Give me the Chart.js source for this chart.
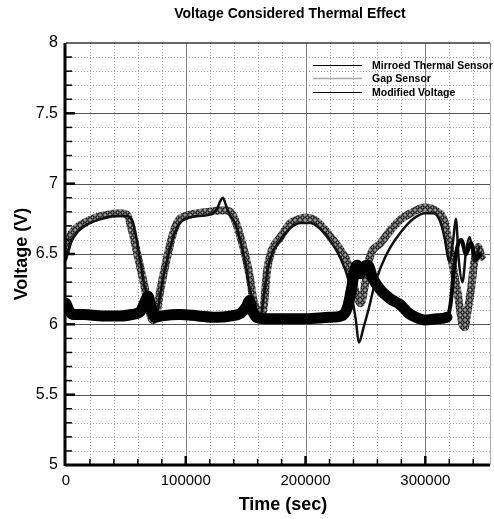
<!DOCTYPE html>
<html>
<head>
<meta charset="utf-8">
<title>Voltage Considered Thermal Effect</title>
<script src="https://cdn.jsdelivr.net/npm/chart.js@4.4.0/dist/chart.umd.min.js"></script>
<style>
  html, body { margin: 0; padding: 0; background: #fff; }
  #wrap { width: 494px; height: 519px; }
</style>
</head>
<body>
<div id="wrap"><canvas id="myChart" width="494" height="519"></canvas></div>
<script>
// values: time in sec, voltage in V
const gapTime = [0, 3000, 8000, 15000, 25000, 35000, 45000, 51000, 55000, 60000, 64500, 68000, 71000, 73000, 76000, 78700, 84500, 89500, 94000, 100000,
    110000, 120000, 128000, 134000, 139000, 144000, 150000, 154000, 156500, 160500, 162000, 165000, 168000, 172000, 179000, 187500, 195000, 200000,
    206000, 212000, 221000, 229000, 235000, 239000, 243000, 246000, 250000, 253000, 263000, 271000, 280000, 290000, 299000, 310000, 316000, 319000,
    323000, 327000, 331000, 333000, 335000, 338000, 341000, 344000, 347000];
const gapVolt = [6.52, 6.62, 6.68, 6.72, 6.76, 6.78, 6.79, 6.78, 6.67, 6.48, 6.31, 6.17, 6.05, 6.03, 6.10, 6.24, 6.48, 6.65, 6.74, 6.77,
    6.79, 6.80, 6.81, 6.81, 6.78, 6.67, 6.48, 6.31, 6.17, 6.08, 6.04, 6.12, 6.39, 6.53, 6.62, 6.72, 6.75, 6.76,
    6.75, 6.71, 6.62, 6.53, 6.44, 6.31, 6.20, 6.15, 6.30, 6.46, 6.58, 6.67, 6.75, 6.80, 6.83, 6.80, 6.73, 6.60,
    6.41, 6.22, 6.00, 5.98, 6.08, 6.24, 6.45, 6.55, 6.48];

const mirrorTime = [0, 4000, 10000, 20000, 30000, 40000, 50000, 56000, 61000, 65000, 69000, 72000, 74000, 77000, 80000, 85000, 90000, 95000, 100000,
    110000, 120000, 126000, 129000, 131000, 133000, 136000, 141000, 146000, 150000, 153000, 156000, 159000, 161000, 163000, 165500, 168500, 173000,
    180000, 188000, 196000, 204000, 212000, 220000, 228000, 236000, 242000, 244500, 248500, 253000, 257000, 263000, 271000, 280000, 290000, 300000,
    307000, 312000, 316000, 320000, 323000, 325500, 328000, 331000, 334000, 337000, 341000, 345000];
const mirrorVolt = [6.46, 6.58, 6.66, 6.72, 6.75, 6.77, 6.77, 6.72, 6.50, 6.30, 6.14, 6.04, 6.02, 6.12, 6.28, 6.48, 6.63, 6.72, 6.75,
    6.77, 6.78, 6.82, 6.88, 6.90, 6.86, 6.79, 6.72, 6.58, 6.42, 6.27, 6.14, 6.05, 6.02, 6.07, 6.22, 6.40, 6.52,
    6.61, 6.69, 6.72, 6.72, 6.68, 6.60, 6.49, 6.31, 6.03, 5.87, 5.98, 6.12, 6.26, 6.41, 6.55, 6.66, 6.75, 6.79,
    6.79, 6.74, 6.62, 6.45, 6.58, 6.75, 6.45, 6.30, 6.52, 6.62, 6.45, 6.55];

const modTime = [0, 2500, 6000, 15000, 30000, 45000, 55000, 62000, 66000, 68500, 71000, 74000, 80000, 95000, 110000, 125000, 138000, 146000,
    151000, 153000, 155500, 159000, 166000, 180000, 200000, 220000, 230000, 235000, 238500, 241000, 243000, 245500, 249000, 252000, 256000,
    263000, 271000, 279000, 286000, 292000, 300000, 310000, 318000, 321000, 324000, 327000, 330000, 334000, 338000, 342000, 346000];
const modVolt = [6.15, 6.10, 6.07, 6.07, 6.06, 6.06, 6.07, 6.09, 6.16, 6.20, 6.12, 6.05, 6.06, 6.07, 6.06, 6.05, 6.06, 6.08,
    6.13, 6.17, 6.10, 6.05, 6.04, 6.04, 6.04, 6.05, 6.06, 6.12, 6.26, 6.38, 6.42, 6.36, 6.41, 6.42, 6.33,
    6.24, 6.18, 6.14, 6.08, 6.05, 6.03, 6.04, 6.05, 6.14, 6.40, 6.56, 6.60, 6.50, 6.58, 6.46, 6.50];

const seriesNames = ['Mirroed Thermal Sensor', 'Gap Sensor', 'Modified Voltage'];
const xTicks = [0, 100000, 200000, 300000];
const xTickLabels = ['0', '100000', '200000', '300000'];
const yTicks = [5, 5.5, 6, 6.5, 7, 7.5, 8];
const yTickLabels = ['5', '5.5', '6', '6.5', '7', '7.5', '8'];

const FONT = "'Liberation Sans', Arial, sans-serif";

function toPoints(times, volts) {
    return times.map((t, i) => ({ x: t, y: volts[i] }));
}

// gray band with little rings, like the gap sensor trace
function makeHatch(ctx) {
    const c = document.createElement('canvas');
    c.width = 5;
    c.height = 5;
    const g = c.getContext('2d');
    g.fillStyle = '#9a9a9a';
    g.fillRect(0, 0, 5, 5);
    g.strokeStyle = '#000';
    g.lineWidth = 1.1;
    g.beginPath();
    g.arc(2.5, 2.5, 1.7, 0, Math.PI * 2);
    g.stroke();
    return ctx.createPattern(c, 'repeat');
}

function seg(ctx, x1, y1, x2, y2) {
    ctx.beginPath();
    ctx.moveTo(x1, y1);
    ctx.lineTo(x2, y2);
    ctx.stroke();
}

// grid, frame, ticks, titles and legend
const framePlugin = {
    id: 'framePlugin',
    beforeDatasetsDraw(chart) {
        const { ctx, chartArea: a, scales: { x, y } } = chart;
        ctx.save();
        ctx.lineWidth = 1;
        // minor dotted grid
        ctx.strokeStyle = '#a0a0a0';
        ctx.setLineDash([1, 2]);
        for (let i = 1; i * 20000 < x.max; i++) {
            if (i % 5 === 0) continue;
            const px = Math.round(x.getPixelForValue(i * 20000)) + 0.5;
            seg(ctx, px, a.top, px, a.bottom);
        }
        for (let i = 51; i < 80; i++) {
            if (i % 5 === 0) continue;
            const py = Math.round(y.getPixelForValue(i / 10)) + 0.5;
            seg(ctx, a.left, py, a.right, py);
        }
        // major solid grid
        ctx.setLineDash([]);
        ctx.strokeStyle = '#808080';
        xTicks.forEach(v => {
            if (v === 0) return;
            const px = Math.round(x.getPixelForValue(v)) + 0.5;
            seg(ctx, px, a.top, px, a.bottom);
        });
        ctx.strokeStyle = '#555';
        yTicks.forEach(v => {
            if (v === 5 || v === 8) return;
            const py = Math.round(y.getPixelForValue(v)) + 0.5;
            seg(ctx, a.left, py, a.right, py);
        });
        ctx.restore();
    },
    afterDraw(chart) {
        const { ctx, chartArea: a, scales: { x, y } } = chart;
        ctx.save();
        // frame
        ctx.strokeStyle = '#333';
        ctx.lineWidth = 1.5;
        seg(ctx, a.left, a.top, a.right, a.top);
        ctx.strokeStyle = '#aaa';
        ctx.lineWidth = 1;
        seg(ctx, a.right + 0.5, a.top, a.right + 0.5, a.bottom);
        ctx.strokeStyle = '#000';
        ctx.lineWidth = 3;
        seg(ctx, a.left - 1, a.top, a.left - 1, a.bottom + 1);
        seg(ctx, a.left - 1, a.bottom, a.right, a.bottom);
        // inward ticks
        for (let i = 51; i < 80; i++) {
            const major = i % 5 === 0;
            const py = y.getPixelForValue(i / 10);
            ctx.lineWidth = major ? 2.5 : 1.5;
            seg(ctx, a.left, py, a.left + (major ? 9 : 6), py);
        }
        for (let i = 1; i * 20000 < x.max; i++) {
            const major = i % 5 === 0;
            const px = x.getPixelForValue(i * 20000);
            ctx.lineWidth = major ? 2.5 : 1.5;
            seg(ctx, px, a.bottom, px, a.bottom - (major ? 9 : 6));
        }
        // titles
        ctx.fillStyle = '#000';
        ctx.textAlign = 'center';
        ctx.textBaseline = 'middle';
        ctx.font = 'bold 14px ' + FONT;
        ctx.fillText('Voltage Considered Thermal Effect', 290, 14);
        ctx.font = 'bold 18px ' + FONT;
        ctx.fillText('Time (sec)', 283, 505);
        ctx.save();
        ctx.translate(22, 254);
        ctx.rotate(-Math.PI / 2);
        ctx.fillText('Voltage (V)', 0, 0);
        ctx.restore();
        // legend inside the plot
        const rowsY = [65, 78, 92];
        ctx.font = 'bold 10.5px ' + FONT;
        ctx.textAlign = 'left';
        chart.data.datasets.forEach((ds, i) => {
            ctx.strokeStyle = ds.legendColor;
            ctx.lineWidth = ds.legendWidth;
            seg(ctx, 313, rowsY[i] + 0.5, 362, rowsY[i] + 0.5);
            ctx.fillText(ds.label, 372, rowsY[i] + 1);
        });
        ctx.restore();
    }
};

function makeChart() {
    const ctx = document.getElementById('myChart').getContext('2d');
    const chart = new Chart(ctx, {
        type: 'line',
        data: {
            datasets: [{
                label: seriesNames[0],
                data: toPoints(mirrorTime, mirrorVolt),
                borderColor: '#111',
                borderWidth: 2.5,
                legendColor: '#000',
                legendWidth: 1,
                order: 2
            }, {
                label: seriesNames[1],
                data: toPoints(gapTime, gapVolt),
                borderColor: makeHatch(ctx),
                borderWidth: 8,
                legendColor: '#aaa',
                legendWidth: 1.5,
                order: 3
            }, {
                label: seriesNames[2],
                data: toPoints(modTime, modVolt),
                borderColor: '#000',
                borderWidth: 11,
                // the noisy tail at the end is thinner
                segment: { borderWidth: c => c.p0.parsed.x >= 318000 ? 4 : undefined },
                legendColor: '#000',
                legendWidth: 1,
                order: 1
            }]
        },
        options: {
            responsive: false,
            animation: false,
            devicePixelRatio: 1,
            layout: { padding: { top: 43, right: 4, left: 0, bottom: 0 } },
            elements: {
                point: { radius: 0 },
                line: { cubicInterpolationMode: 'monotone', borderCapStyle: 'round', borderJoinStyle: 'round' }
            },
            plugins: {
                legend: { display: false },
                title: { display: false },
                tooltip: { enabled: false }
            },
            scales: {
                x: {
                    type: 'linear',
                    min: 0,
                    max: 354000,
                    afterFit(scale) { scale.height = 54; },
                    afterBuildTicks(scale) { scale.ticks = xTicks.map(v => ({ value: v })); },
                    grid: { display: true, drawOnChartArea: false, drawTicks: false },
                    border: { display: false },
                    ticks: {
                        autoSkip: false,
                        maxRotation: 0,
                        padding: 7,
                        color: '#000',
                        font: { family: FONT, size: 15 },
                        callback: (v, i) => xTickLabels[i]
                    }
                },
                y: {
                    min: 5,
                    max: 8,
                    afterFit(scale) { scale.width = 66; },
                    afterBuildTicks(scale) { scale.ticks = yTicks.map(v => ({ value: v })); },
                    grid: { display: true, drawOnChartArea: false, drawTicks: false },
                    border: { display: false },
                    ticks: {
                        autoSkip: false,
                        padding: 8,
                        color: '#000',
                        font: { family: FONT, size: 16 },
                        callback: (v, i) => yTickLabels[i]
                    }
                }
            }
        },
        plugins: [framePlugin]
    });
    return chart;
}

makeChart();
</script>
</body>
</html>
